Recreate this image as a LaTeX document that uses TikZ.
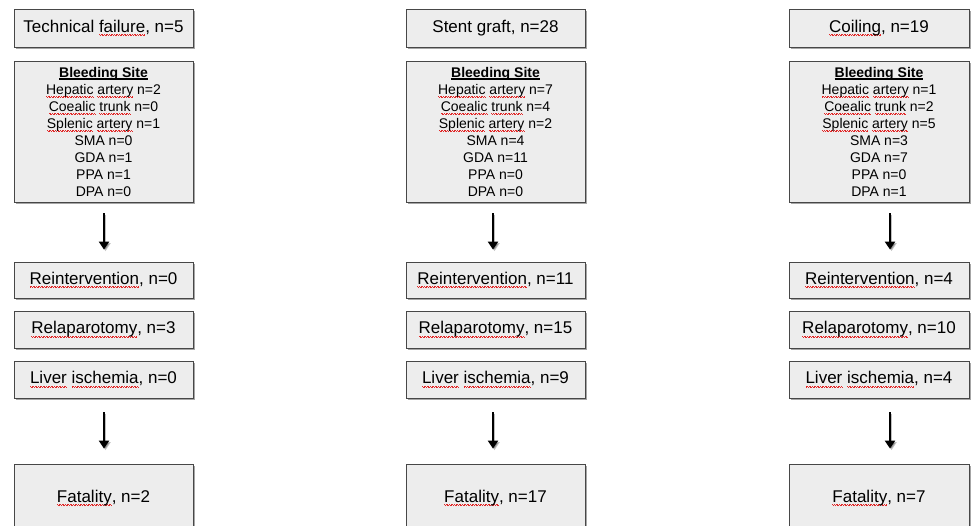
\documentclass[tikz,border=0pt]{standalone}
\usepackage{fontspec}
\setmainfont{Liberation Sans}
\usetikzlibrary{arrows.meta,shadows}
\definecolor{wavered}{RGB}{225,40,40}
\newcommand\sqw[1]{\leavevmode\setbox0=\hbox{#1}\rlap{\hbox to\wd0{\color{wavered}\xleaders\hbox{\vrule width0.8pt height-2.2pt depth3.0pt\vrule width0.8pt height-3.0pt depth3.8pt}\hfill}}\box0\relax}
\newcommand\bsite{\leavevmode\setbox0=\hbox{\textbf{Bleeding Site}}\rlap{\vrule width\wd0 height-1.3pt depth2.6pt}\box0\relax}
\tikzset{
  box/.style={draw=black!72, fill=black!7, line width=0.8pt, minimum width=179pt,
    inner sep=0pt, align=center, font=\fontsize{17}{20}\selectfont,
    drop shadow={shadow xshift=1.6pt, shadow yshift=-1.6pt, fill=black, opacity=0.35}},
  sitebox/.style={box, font=\fontsize{14}{17}\selectfont},
  arr/.style={line width=2.6pt, -{Triangle[width=10pt,length=8pt]}, black,
    preaction={draw=black, opacity=0.25, transform canvas={xshift=1.5pt,yshift=-1.5pt}}},
}
\begin{document}
\begin{tikzpicture}[x=1pt,y=-1pt]
\useasboundingbox (0,0) rectangle (971,526);
% column 1
\node[box, minimum height=38pt] (t1) at (103.5,28) {Technical \sqw{failure}, n=5};
\node[sitebox, minimum height=141pt] (b1) at (103.5,131.5) {\bsite\\ \sqw{Hepatic} \sqw{artery} n=2\\ \sqw{Coealic} \sqw{trunk} n=0\\ \sqw{Splenic} \sqw{artery} n=1\\ SMA n=0\\ GDA n=1\\ PPA n=1\\ DPA n=0};
\node[box, minimum height=36pt] (r1) at (103.5,280) {\sqw{Reintervention}, n=0};
\node[box, minimum height=37pt] (p1) at (103.5,329.5) {\sqw{Relaparotomy}, n=3};
\node[box, minimum height=37pt] (l1) at (103.5,379.5) {\sqw{Liver} \sqw{ischemia}, n=0};
\node[box, minimum height=68pt] (f1) at (103.5,498) {\sqw{Fatality}, n=2};
% column 2
\node[box, minimum height=38pt] (t2) at (495.5,28) {Stent graft, n=28};
\node[sitebox, minimum height=141pt] (b2) at (495.5,131.5) {\bsite\\ \sqw{Hepatic} \sqw{artery} n=7\\ \sqw{Coealic} \sqw{trunk} n=4\\ \sqw{Splenic} \sqw{artery} n=2\\ SMA n=4\\ GDA n=11\\ PPA n=0\\ DPA n=0};
\node[box, minimum height=36pt] (r2) at (495.5,280) {\sqw{Reintervention}, n=11};
\node[box, minimum height=37pt] (p2) at (495.5,329.5) {\sqw{Relaparotomy}, n=15};
\node[box, minimum height=37pt] (l2) at (495.5,379.5) {\sqw{Liver} \sqw{ischemia}, n=9};
\node[box, minimum height=68pt] (f2) at (495.5,498) {\sqw{Fatality}, n=17};
% column 3
\node[box, minimum height=38pt, minimum width=180pt] (t3) at (879,28) {\sqw{Coiling}, n=19};
\node[sitebox, minimum height=141pt, minimum width=180pt] (b3) at (879,131.5) {\bsite\\ \sqw{Hepatic} \sqw{artery} n=1\\ \sqw{Coealic} \sqw{trunk} n=2\\ \sqw{Splenic} \sqw{artery} n=5\\ SMA n=3\\ GDA n=7\\ PPA n=0\\ DPA n=1};
\node[box, minimum height=36pt, minimum width=180pt] (r3) at (879,280) {\sqw{Reintervention}, n=4};
\node[box, minimum height=37pt, minimum width=180pt] (p3) at (879,329.5) {\sqw{Relaparotomy}, n=10};
\node[box, minimum height=37pt, minimum width=180pt] (l3) at (879,379.5) {\sqw{Liver} \sqw{ischemia}, n=4};
\node[box, minimum height=68pt, minimum width=180pt] (f3) at (879,498) {\sqw{Fatality}, n=7};
% arrows
\draw[arr] ([xshift=0.5pt,yshift=-11pt]b1.south) -- ([xshift=0.5pt,yshift=12pt]r1.north);
\draw[arr] ([xshift=0.5pt,yshift=-14pt]l1.south) -- ([xshift=0.5pt,yshift=15pt]f1.north);
\draw[arr] ([xshift=-2.5pt,yshift=-11pt]b2.south) -- ([xshift=-2.5pt,yshift=12pt]r2.north);
\draw[arr] ([xshift=-2.5pt,yshift=-14pt]l2.south) -- ([xshift=-2.5pt,yshift=15pt]f2.north);
\draw[arr] ([xshift=11pt,yshift=-11pt]b3.south) -- ([xshift=11pt,yshift=12pt]r3.north);
\draw[arr] ([xshift=11pt,yshift=-14pt]l3.south) -- ([xshift=11pt,yshift=15pt]f3.north);
\end{tikzpicture}
\end{document}
